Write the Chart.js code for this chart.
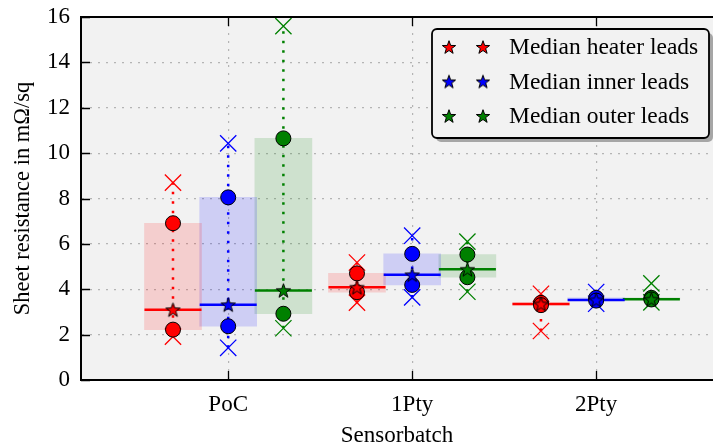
<!DOCTYPE html>
<html>
<head>
<meta charset="utf-8">
<title>Sheet resistance per sensor batch</title>
<script src="https://cdn.jsdelivr.net/npm/chart.js@4.4.1/dist/chart.umd.min.js"></script>
<style>
  html, body { margin: 0; padding: 0; background: #fff; overflow: hidden; }
  canvas { display: block; }
</style>
</head>
<body>
<canvas id="sheetChart" width="713" height="448"></canvas>
<script>
// センサーバッチ (x軸)
const batches = ["PoC", "1Pty", "2Pty"];
const batchPos = [1, 2, 3];
const yTicks = [0, 2, 4, 6, 8, 10, 12, 14, 16];

// リードの種類
const leadLabels = ["Median heater leads", "Median inner leads", "Median outer leads"];
const leadColors = ["#ff0000", "#0000ff", "#008000"];
const boxColors = ["rgba(255, 0, 0, 0.15)", "rgba(0, 0, 255, 0.15)", "rgba(0, 128, 0, 0.15)"];
const leadOffset = [-0.3, 0, 0.3];

// ヒーターリード (mΩ/sq, バッチ順)
const heaterMax = [8.7, 5.18, 3.8];
const heaterHigh = [6.91, 4.7, 3.4];
const heaterMedian = [3.1, 4.09, 3.35];
const heaterLow = [2.22, 3.87, 3.3];
const heaterMin = [1.91, 3.41, 2.16];

// 内側リード
const innerMax = [10.43, 6.36, 3.88];
const innerHigh = [8.05, 5.56, 3.62];
const innerMedian = [3.32, 4.64, 3.53];
const innerLow = [2.37, 4.19, 3.5];
const innerMin = [1.42, 3.64, 3.36];

// 外側リード
const outerMax = [15.6, 6.1, 4.26];
const outerHigh = [10.65, 5.53, 3.62];
const outerMedian = [3.95, 4.88, 3.56];
const outerLow = [2.92, 4.53, 3.55];
const outerMin = [2.28, 3.89, 3.42];

const leads = [
  { max: heaterMax, high: heaterHigh, median: heaterMedian, low: heaterLow, min: heaterMin },
  { max: innerMax, high: innerHigh, median: innerMedian, low: innerLow, min: innerMin },
  { max: outerMax, high: outerHigh, median: outerMedian, low: outerLow, min: outerMin },
];

const FONT = "'Liberation Serif', 'DejaVu Serif', serif";
const BOX_PX = 57; // 箱の幅 (px)
const HALF_BOX = 0.155; // 中央値の線の半幅 (x単位)

// 星マーカーの画像を作る
function makeStar(color, r) {
  const c = document.createElement("canvas");
  const s = Math.ceil(r * 2 + 4);
  c.width = s;
  c.height = s;
  const g = c.getContext("2d");
  g.translate(s / 2, s / 2 + r * 0.1);
  g.beginPath();
  for (let k = 0; k < 10; k++) {
    const rad = k % 2 === 0 ? r : r * 0.4;
    const a = -Math.PI / 2 + (k * Math.PI) / 5;
    g.lineTo(rad * Math.cos(a), rad * Math.sin(a));
  }
  g.closePath();
  g.fillStyle = color;
  g.fill();
  g.lineWidth = 1;
  g.strokeStyle = "#000";
  g.stroke();
  return c;
}

const stars = leadColors.map((c) => makeStar(c, 7.5));
const legendStars = leadColors.map((c) => makeStar(c, 7));

// データセットを組み立てる
const datasets = [];
leads.forEach((lead, i) => {
  const xs = batchPos.map((b) => b + leadOffset[i]);

  // 箱
  datasets.push({
    type: "bar",
    data: xs.map((x, j) => ({ x: x, y: [lead.low[j], lead.high[j]] })),
    backgroundColor: boxColors[i],
    borderWidth: 0,
    barThickness: BOX_PX,
    grouped: false,
    order: 6,
  });

  // 最小〜最大の点線
  datasets.push({
    type: "line",
    data: xs.flatMap((x, j) => [
      { x: x, y: lead.min[j] },
      { x: x, y: lead.max[j] },
      { x: x, y: null },
    ]),
    borderColor: leadColors[i],
    borderWidth: 2.5,
    borderDash: [2.5, 7],
    pointRadius: 0,
    spanGaps: false,
    order: 5,
  });

  // 中央値の線
  datasets.push({
    type: "line",
    data: xs.flatMap((x, j) => [
      { x: x - HALF_BOX, y: lead.median[j] },
      { x: x + HALF_BOX, y: lead.median[j] },
      { x: x, y: null },
    ]),
    borderColor: leadColors[i],
    borderWidth: 2.5,
    pointRadius: 0,
    spanGaps: false,
    order: 4,
  });

  // 最大・最小 (×)
  datasets.push({
    type: "scatter",
    data: xs.flatMap((x, j) => [
      { x: x, y: lead.max[j] },
      { x: x, y: lead.min[j] },
    ]),
    pointStyle: "crossRot",
    pointRadius: 11.5,
    borderColor: leadColors[i],
    borderWidth: 1.3,
    order: 3,
  });

  // 上下の丸
  datasets.push({
    type: "scatter",
    data: xs.flatMap((x, j) => [
      { x: x, y: lead.high[j] },
      { x: x, y: lead.low[j] },
    ]),
    pointStyle: "circle",
    pointRadius: 7.5,
    backgroundColor: leadColors[i],
    borderColor: "#000",
    borderWidth: 1,
    order: 2,
  });

  // 中央値 (星)
  datasets.push({
    type: "scatter",
    label: leadLabels[i],
    data: xs.map((x, j) => ({ x: x, y: lead.median[j] })),
    pointStyle: stars[i],
    order: 1,
  });
});

// 背景・枠・内向きの目盛・凡例
const framePlugin = {
  id: "frame",
  beforeDraw(chart) {
    const { ctx, chartArea: a } = chart;
    ctx.save();
    ctx.fillStyle = "#f2f2f2";
    ctx.fillRect(a.left, a.top, a.right - a.left, a.bottom - a.top);
    ctx.restore();
  },
  afterDraw(chart) {
    const { ctx, chartArea: a, scales } = chart;
    ctx.save();
    ctx.strokeStyle = "#000";

    // 上の枠
    ctx.lineWidth = 2;
    ctx.beginPath();
    ctx.moveTo(a.left - 1, a.top);
    ctx.lineTo(a.right + 1, a.top);
    ctx.stroke();

    // 目盛
    ctx.lineWidth = 1.3;
    ctx.beginPath();
    yTicks.forEach((v) => {
      const py = Math.round(scales.y.getPixelForValue(v)) + 0.5;
      ctx.moveTo(a.left, py);
      ctx.lineTo(a.left + 9, py);
    });
    batchPos.forEach((v) => {
      const px = Math.round(scales.x.getPixelForValue(v)) + 0.5;
      ctx.moveTo(px, a.bottom);
      ctx.lineTo(px, a.bottom - 9);
      ctx.moveTo(px, a.top);
      ctx.lineTo(px, a.top + 9);
    });
    ctx.stroke();

    // 凡例
    const lx = 432, ly = 29, lw = 277, lh = 109, r = 5;
    const box = (x, y) => {
      ctx.beginPath();
      ctx.roundRect(x, y, lw, lh, r);
    };
    ctx.fillStyle = "#a6a6a6";
    box(lx + 4, ly + 4);
    ctx.fill();
    ctx.fillStyle = "#f2f2f2";
    box(lx, ly);
    ctx.fill();
    ctx.lineWidth = 1.8;
    ctx.strokeStyle = "#000";
    ctx.stroke();

    ctx.font = "23.5px " + FONT;
    ctx.fillStyle = "#000";
    ctx.textBaseline = "middle";
    ctx.textAlign = "left";
    leadLabels.forEach((label, i) => {
      const cy = 47 + i * 34.5;
      const img = legendStars[i];
      ctx.drawImage(img, 449 - img.width / 2, cy - img.height / 2);
      ctx.drawImage(img, 483 - img.width / 2, cy - img.height / 2);
      ctx.fillText(label, 509, cy + 1);
    });
    ctx.restore();
  },
};

const ctx = document.getElementById("sheetChart").getContext("2d");
new Chart(ctx, {
  type: "scatter",
  data: { datasets: datasets },
  options: {
    responsive: false,
    animation: false,
    events: [],
    layout: { autoPadding: false, padding: { top: 17, right: 0, left: 0, bottom: 0 } },
    plugins: {
      legend: { display: false },
      tooltip: { enabled: false },
    },
    scales: {
      x: {
        type: "linear",
        min: 0.2,
        max: 3.635,
        offset: false,
        afterFit: (scale) => {
          scale.height = 68;
          scale.paddingLeft = 0;
          scale.paddingRight = 0;
        },
        afterBuildTicks: (scale) => { scale.ticks = batchPos.map((v) => ({ value: v })); },
        ticks: {
          callback: (v) => batches[batchPos.indexOf(v)],
          color: "#000",
          font: { family: FONT, size: 23 },
          padding: 11,
          maxRotation: 0,
        },
        grid: { color: "#b4b4b4", lineWidth: 1.2, drawTicks: false, offset: false },
        border: { display: true, color: "#000", width: 2, dash: [2, 6] },
        title: {
          display: true,
          text: "Sensorbatch",
          color: "#000",
          font: { family: FONT, size: 23, lineHeight: 1 },
          padding: { top: 0, bottom: 1 },
        },
      },
      y: {
        min: 0,
        max: 16,
        afterFit: (scale) => {
          scale.width = 81;
          scale.paddingTop = 0;
          scale.paddingBottom = 0;
        },
        afterBuildTicks: (scale) => { scale.ticks = yTicks.map((v) => ({ value: v })); },
        ticks: {
          color: "#000",
          font: { family: FONT, size: 23 },
          padding: 11,
        },
        grid: { color: "#b4b4b4", lineWidth: 1.2, drawTicks: false },
        border: { display: true, color: "#000", width: 2, dash: [2, 6] },
        title: {
          display: true,
          text: "Sheet resistance in mΩ/sq",
          color: "#000",
          font: { family: FONT, size: 22.5, lineHeight: 1 },
          padding: { top: 12, bottom: 0 },
        },
      },
    },
  },
  plugins: [framePlugin],
});
</script>
</body>
</html>
